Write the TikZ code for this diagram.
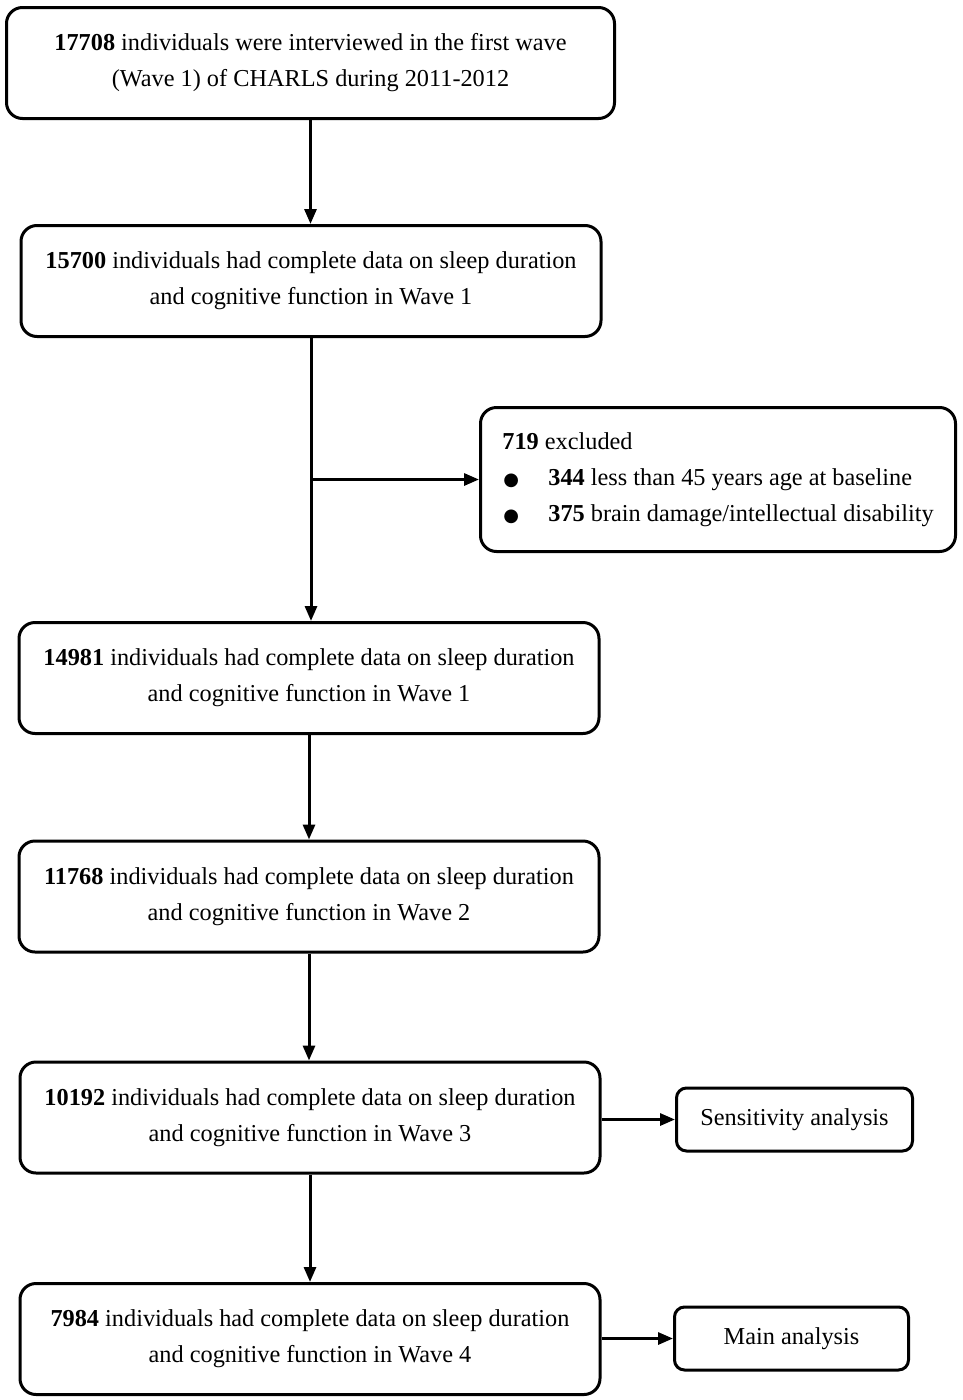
\documentclass[tikz,border=0pt]{standalone}
\usepackage{fontspec}
\setmainfont{Liberation Serif}
\newfontfamily\symfont{DejaVu Sans}
\usetikzlibrary{positioning,arrows.meta,calc}
\tikzset{>={Triangle[length=15pt,width=12pt]}}
\newcommand{\bul}{\makebox[46pt][l]{\hspace{1pt}{\symfont\fontsize{18}{18}\selectfont ●}}}

\begin{document}
\begin{tikzpicture}[x=1pt,y=-1pt,
      % define styles
      stage/.style={
           draw,
           line width=3pt,
           rounded corners=16pt,
           minimum width=580pt,
           minimum height=111pt,
           align=center,
           inner sep=0pt,
           font=\fontsize{24.3}{36}\selectfont
      },
      side/.style={
           stage,
           minimum width=236pt,
           minimum height=63pt,
           rounded corners=10pt
      },
      flow/.style={
           ->,
           line width=3pt
      }
  ]
  \useasboundingbox (0,0) rectangle (963,1400);
  % main column
  \node[stage,minimum width=608pt] at (310.5,63) (w1)
      {\textbf{17708} individuals were interviewed in the first wave\\(Wave 1) of CHARLS during 2011-2012};
  \node[stage] at (311,281) (w2)
      {\textbf{15700} individuals had complete data on sleep duration\\and cognitive function in Wave 1};
  \node[stage] at (309,678) (w3)
      {\textbf{14981} individuals had complete data on sleep duration\\and cognitive function in Wave 1};
  \node[stage] at (309,896.5) (w4)
      {\textbf{11768} individuals had complete data on sleep duration\\and cognitive function in Wave 2};
  \node[stage] at (310,1117.5) (w5)
      {\textbf{10192} individuals had complete data on sleep duration\\and cognitive function in Wave 3};
  \node[stage] at (310,1339) (w6)
      {\textbf{7984} individuals had complete data on sleep duration\\and cognitive function in Wave 4};
  % exclusion box
  \node[stage,minimum width=475pt,minimum height=144pt,align=left] at (718,479.5) (excl)
      {\textbf{719} excluded\\\bul\textbf{344} less than 45 years age at baseline\\\bul\textbf{375} brain damage/intellectual disability};
  % analysis boxes
  \node[side] at (794.5,1119.5) (sens) {Sensitivity analysis};
  \node[side,minimum width=234pt] at (791.5,1338.5) (main) {Main analysis};
  % arrows down the column
  \draw[flow] (w1.south) -- (w1.south|-w2.north);
  \draw[flow] (w2.south) -- (w2.south|-w3.north);
  \draw[flow] (w3.south) -- (w3.south|-w4.north);
  \draw[flow] (w4.south) -- (w4.south|-w5.north);
  \draw[flow] (w5.south) -- (w5.south|-w6.north);
  % side arrows
  \draw[flow] (w2.south|-excl.west) -- (excl.west);
  \draw[flow] (w5.east|-sens.west) -- (sens.west);
  \draw[flow] (w6.east|-main.west) -- (main.west);
\end{tikzpicture}
\end{document}
